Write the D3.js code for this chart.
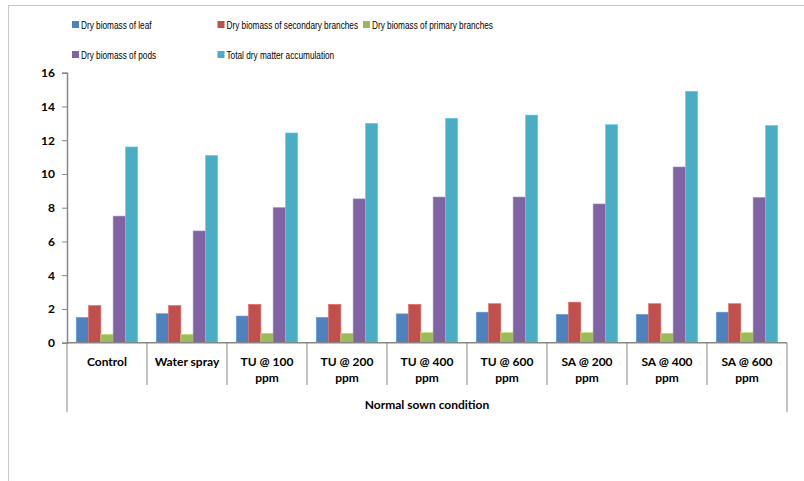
<!DOCTYPE html>
<html>
<head>
  <meta charset="utf-8">
  <title>Dry biomass bar chart</title>
  <script src="https://d3js.org/d3.v7.min.js"></script>
  <style>
    body { margin: 0; background: #fff; }
    text { font-family: Lato, "Liberation Sans", sans-serif; fill: #000; }
  </style>
</head>
<body>
<script>
// data
var categories = ["Control", "Water spray", "TU @ 100 ppm", "TU @ 200 ppm", "TU @ 400 ppm",
                  "TU @ 600 ppm", "SA @ 200 ppm", "SA @ 400 ppm", "SA @ 600 ppm"];
var seriesNames = ["Dry biomass of leaf", "Dry biomass of secondary branches",
                   "Dry biomass of primary branches", "Dry biomass of pods",
                   "Total dry matter accumulation"];
var leaf      = [1.5, 1.72, 1.58, 1.5, 1.71, 1.81, 1.68, 1.68, 1.81];
var secondary = [2.2, 2.2, 2.27, 2.27, 2.27, 2.31, 2.4, 2.31, 2.31];
var primary   = [0.5, 0.5, 0.56, 0.56, 0.6, 0.6, 0.6, 0.56, 0.6];
var pods      = [7.5, 6.62, 8.0, 8.52, 8.63, 8.63, 8.22, 10.41, 8.6];
var total     = [11.6, 11.1, 12.43, 13.0, 13.3, 13.49, 12.92, 14.9, 12.88];
var yTicks = [0, 2, 4, 6, 8, 10, 12, 14, 16];
var groupLabel = "Normal sown condition";
var colors = ["#4F81BD", "#C0504D", "#9BBB59", "#8064A2", "#4BACC6"];

var seriesValues = [leaf, secondary, primary, pods, total];

var width = 804, height = 481;
var plotLeft = 67, plotRight = 787, plotTop = 72.7, plotBottom = 342.7;

var svg = d3.select("body").append("svg").attr("width", width).attr("height", height);

// chart frame
svg.append("rect")
  .attr("x", 8.5).attr("y", 5.5).attr("width", 810).attr("height", 490)
  .attr("fill", "none").attr("stroke", "#c8c8c8").attr("stroke-width", 1);

var x0 = d3.scaleBand().domain(categories).range([plotLeft, plotRight]).paddingInner(0).paddingOuter(0);
var cw = x0.bandwidth();
var bw = cw / 6.5;
var x1 = d3.scaleBand().domain(seriesNames).range([0.75 * bw, cw - 0.75 * bw]).padding(0);
var y = d3.scaleLinear().domain([0, 16]).range([plotBottom, plotTop]);

// bars
var groups = svg.append("g").selectAll("g")
  .data(categories)
  .join("g")
  .attr("transform", function(d) { return "translate(" + x0(d) + ",0)"; });

groups.selectAll("rect")
  .data(function(d, i) {
    return seriesNames.map(function(s, k) { return { s: s, k: k, v: seriesValues[k][i] }; });
  })
  .join("rect")
  .attr("x", function(d) { return x1(d.s); })
  .attr("y", function(d) { return y(d.v); })
  .attr("width", x1.bandwidth())
  .attr("height", function(d) { return plotBottom - y(d.v); })
  .attr("fill", function(d) { return colors[d.k]; })
  .attr("stroke", function(d) { return d3.color(colors[d.k]).brighter(0.6); })
  .attr("stroke-width", 0.6);

// y axis
var yAxis = svg.append("g")
  .attr("transform", "translate(" + plotLeft + ",0)")
  .call(d3.axisLeft(y).tickValues(yTicks).tickSize(5).tickPadding(7).tickFormat(d3.format("d")));
yAxis.select(".domain").attr("stroke", "#868686").attr("stroke-width", 1.5);
yAxis.selectAll(".tick line").attr("stroke", "#868686");
yAxis.selectAll("text").style("font-size", "12px").style("font-weight", "bold");

// x axis line
svg.append("line")
  .attr("x1", plotLeft).attr("x2", plotRight).attr("y1", plotBottom).attr("y2", plotBottom)
  .attr("stroke", "#868686").attr("stroke-width", 1.5);

// category separators
var seps = d3.range(1, categories.length).map(function(i) { return x0(categories[i]); });
svg.selectAll("line.sep")
  .data(seps)
  .join("line")
  .attr("class", "sep")
  .attr("x1", function(d) { return d; }).attr("x2", function(d) { return d; })
  .attr("y1", plotBottom).attr("y2", 385)
  .attr("stroke", "#868686");
svg.selectAll("line.outer")
  .data([plotLeft, plotRight])
  .join("line")
  .attr("class", "outer")
  .attr("x1", function(d) { return d; }).attr("x2", function(d) { return d; })
  .attr("y1", plotBottom).attr("y2", 412)
  .attr("stroke", "#868686");

// category labels
svg.selectAll("text.cat")
  .data(categories)
  .join("text")
  .attr("class", "cat")
  .attr("x", function(d) { return x0(d) + cw / 2; })
  .attr("y", 366)
  .attr("text-anchor", "middle")
  .style("font-size", "12px").style("font-weight", "bold")
  .each(function(d) {
    var t = d3.select(this);
    var m = d.match(/^(.*) (ppm)$/);
    if (m) {
      t.append("tspan").attr("x", x0(d) + cw / 2).text(m[1]);
      t.append("tspan").attr("x", x0(d) + cw / 2).attr("dy", 16).text(m[2]);
    } else {
      t.text(d);
    }
  });

svg.append("text")
  .attr("x", (plotLeft + plotRight) / 2).attr("y", 409)
  .attr("text-anchor", "middle")
  .style("font-size", "12px").style("font-weight", "bold")
  .text(groupLabel);

// legend (the original font is a narrow one, so squeeze it a little)
var legend = svg.append("g").selectAll("g")
  .data(seriesNames)
  .join("g")
  .attr("transform", function(d, i) {
    return "translate(" + (72 + (i % 3) * 145.5) + "," + (21 + Math.floor(i / 3) * 30) + ")";
  });
legend.append("rect").attr("width", 7).attr("height", 7)
  .attr("fill", function(d, i) { return colors[i]; });
legend.append("g").attr("transform", "translate(9,7.5) scale(0.75,1)")
  .append("text")
  .style("font-family", "'Liberation Sans', sans-serif")
  .style("font-size", "11px")
  .text(function(d) { return d; });
</script>
</body>
</html>
